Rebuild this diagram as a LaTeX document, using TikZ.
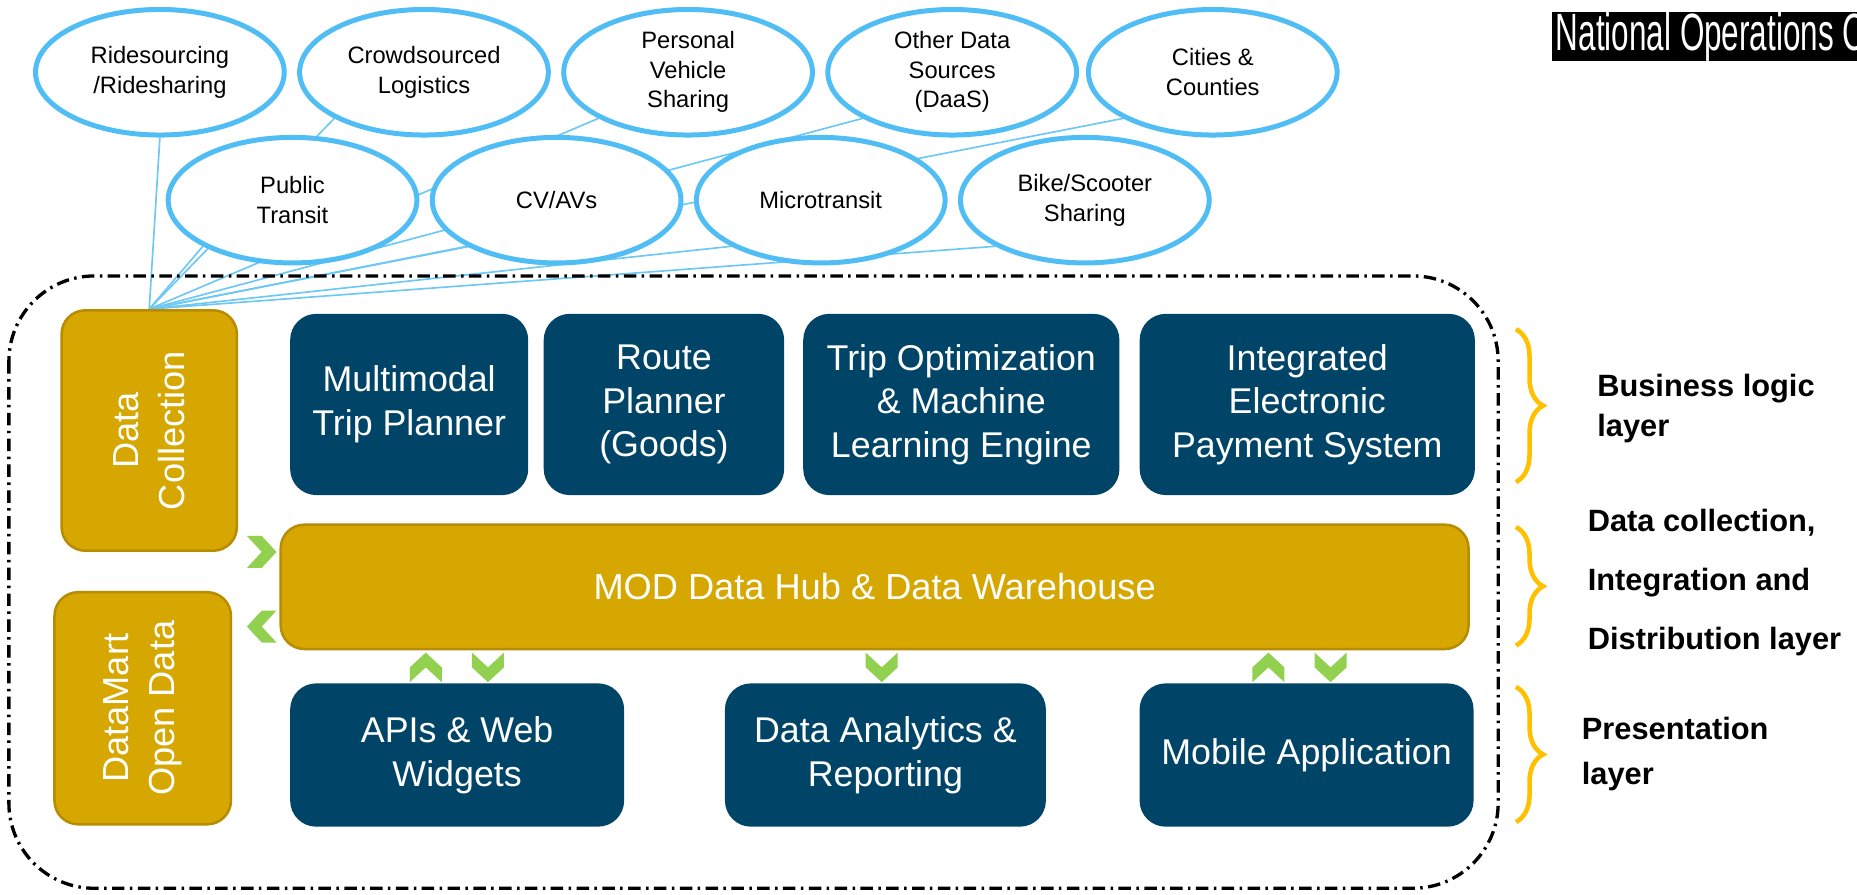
\documentclass[tikz,border=0pt]{standalone}
\usepackage{fontspec}
\setmainfont{Liberation Sans}
\usepackage{graphicx}
\usetikzlibrary{shapes.geometric,positioning,decorations.pathreplacing}
\definecolor{srcblue}{RGB}{80,190,245}
\definecolor{feedblue}{RGB}{110,200,245}
\definecolor{navy}{RGB}{0,69,104}
\definecolor{gold}{RGB}{214,167,0}
\definecolor{golddark}{RGB}{184,140,0}
\definecolor{chevgreen}{RGB}{146,208,80}
\definecolor{braceyellow}{RGB}{255,192,0}
\pgfdeclarelayer{background}
\pgfsetlayers{background,main}

\begin{document}
\begin{tikzpicture}[node distance=2.23cm,semithick]
		\tikzstyle{source}=[ellipse,draw=srcblue,line width=1.2pt,fill=white,minimum width=2.10cm,minimum height=1.06cm,inner sep=0pt,align=center,font=\fontsize{5.7}{7.1}\selectfont]
		\tikzstyle{module}=[rectangle,rounded corners=0.22cm,fill=navy,text=white,align=center,inner sep=0pt,font=\fontsize{8.6}{10.5}\selectfont]
		\tikzstyle{store}=[rectangle,rounded corners=0.2cm,fill=gold,draw=golddark,line width=0.6pt,text=white,align=center,inner sep=0pt,font=\fontsize{8.7}{11}\selectfont]
		\tikzstyle{sidetext}=[rotate=90,text=white,align=center,inner sep=0pt,font=\fontsize{8.7}{11}\selectfont]
		\tikzstyle{chev}=[fill=chevgreen]
		\tikzstyle{feed}=[draw=feedblue,line width=0.4pt]
		\tikzstyle{layerbrace}=[draw=braceyellow,line width=1.1pt,decorate,decoration={brace,amplitude=0.23cm}]
		\tikzstyle{layerlabel}=[anchor=west,align=left,inner sep=0pt]
		
		\useasboundingbox (0,0) rectangle (15.68,-7.55);
		
		\node[source] (rs) at (1.35,-0.61) {Ridesourcing\\/Ridesharing};
		\node[source] (cl) [right of=rs] {Crowdsourced\\Logistics};
		\node[source] (pv) [right of=cl] {Personal\\Vehicle\\Sharing};
		\node[source] (od) [right of=pv] {Other Data\\Sources\\(DaaS)};
		\node[source] (cc) [right of=od,xshift=-0.03cm] {Cities \&\\Counties};
		\node[source] (pt) at (2.47,-1.69) {Public\\Transit};
		\node[source] (av) [right of=pt] {CV/AVs};
		\node[source] (mt) [right of=av] {Microtransit};
		\node[source] (bs) [right of=mt] {Bike/Scooter\\Sharing};
		
		\draw[dash pattern=on 3pt off 1.3pt on 0.6pt off 1.3pt,line width=0.8pt,rounded corners=0.72cm] (0.075,-2.33) rectangle (12.65,-7.50);
		
		\node[store,minimum width=1.48cm,minimum height=2.03cm] (dc) at (1.26,-3.635) {};
		\node[sidetext] at (dc) {Data\\Collection};
		\node[store,minimum width=1.49cm,minimum height=1.96cm] (dm) at (1.205,-5.98) {};
		\node[sidetext] at (dm) {DataMart\\Open Data};
		
		\node[module,minimum width=2.01cm,minimum height=1.53cm] (mtp) at (3.455,-3.415) {Multimodal\\Trip Planner};
		\node[module,minimum width=2.03cm,minimum height=1.53cm,right=0.11cm of mtp] (rp) {Route\\Planner\\(Goods)};
		\node[module,minimum width=2.67cm,minimum height=1.53cm,right=0.14cm of rp] (tom) {Trip Optimization\\\& Machine\\Learning Engine};
		\node[module,minimum width=2.83cm,minimum height=1.53cm,right=0.15cm of tom] (iep) {Integrated\\Electronic\\Payment System};
		
		\node[store,minimum width=10.03cm,minimum height=1.05cm] (hub) at (7.385,-4.955) {MOD Data Hub \& Data Warehouse};
		
		\node[module,minimum width=2.82cm,minimum height=1.21cm] (api) at (3.86,-6.375) {APIs \& Web\\Widgets};
		\node[module,minimum width=2.71cm,minimum height=1.21cm,right=0.83cm of api] (dar) {Data Analytics \&\\Reporting};
		\node[module,minimum width=2.82cm,minimum height=1.21cm,right=0.77cm of dar] (mob) {Mobile Application};
		
		\begin{pgfonlayer}{background}
		\path
		(dc.north) edge [feed] (rs.south)
		(dc.north) edge [feed] (cl.south west)
		(dc.north) edge [feed] (pv.south west)
		(dc.north) edge [feed] (od.south west)
		(dc.north) edge [feed] (cc.south west)
		(dc.north) edge [feed] (pt.south west)
		(dc.north) edge [feed] (av.south west)
		(dc.north) edge [feed] (mt.south west)
		(dc.north) edge [feed] (bs.south west);
		\end{pgfonlayer}
		
		\fill[chev,shift={(2.21,-4.66)},rotate=90] (-0.135,0.125) -- (0,0) -- (0.135,0.125) -- (0.135,0) -- (0,-0.125) -- (-0.135,0) -- cycle;
		\fill[chev,shift={(2.21,-5.29)},rotate=-90] (-0.135,0.125) -- (0,0) -- (0.135,0.125) -- (0.135,0) -- (0,-0.125) -- (-0.135,0) -- cycle;
		\fill[chev,shift={(3.595,-5.635)},rotate=180] (-0.135,0.125) -- (0,0) -- (0.135,0.125) -- (0.135,0) -- (0,-0.125) -- (-0.135,0) -- cycle;
		\fill[chev,shift={(4.12,-5.635)}] (-0.135,0.125) -- (0,0) -- (0.135,0.125) -- (0.135,0) -- (0,-0.125) -- (-0.135,0) -- cycle;
		\fill[chev,shift={(7.445,-5.635)}] (-0.135,0.125) -- (0,0) -- (0.135,0.125) -- (0.135,0) -- (0,-0.125) -- (-0.135,0) -- cycle;
		\fill[chev,shift={(10.71,-5.635)},rotate=180] (-0.135,0.125) -- (0,0) -- (0.135,0.125) -- (0.135,0) -- (0,-0.125) -- (-0.135,0) -- cycle;
		\fill[chev,shift={(11.235,-5.635)}] (-0.135,0.125) -- (0,0) -- (0.135,0.125) -- (0.135,0) -- (0,-0.125) -- (-0.135,0) -- cycle;
		
		\draw[layerbrace] (12.80,-2.78) -- (12.80,-4.07);
		\draw[layerbrace] (12.80,-4.45) -- (12.80,-5.45);
		\draw[layerbrace] (12.80,-5.80) -- (12.80,-6.94);
		
		\node[layerlabel,font=\bfseries\fontsize{7.4}{9.7}\selectfont] (bl) at (13.48,-3.45) {Business logic\\layer};
		\node[layerlabel,font=\bfseries\fontsize{7.4}{14.2}\selectfont] (dl) at (13.40,-4.92) {Data collection,\\Integration and\\Distribution layer};
		\node[layerlabel,font=\bfseries\fontsize{7.4}{10.8}\selectfont] (pl) at (13.35,-6.37) {Presentation\\layer};
		
		\node[fill=black,text=white,anchor=west,inner xsep=0.03cm,inner ysep=0pt,minimum height=0.40cm] (noc) at (13.10,-0.31) {\scalebox{0.6}[1]{\fontsize{12.6}{13}\selectfont National Operations C}};
\end{tikzpicture}
\end{document}
